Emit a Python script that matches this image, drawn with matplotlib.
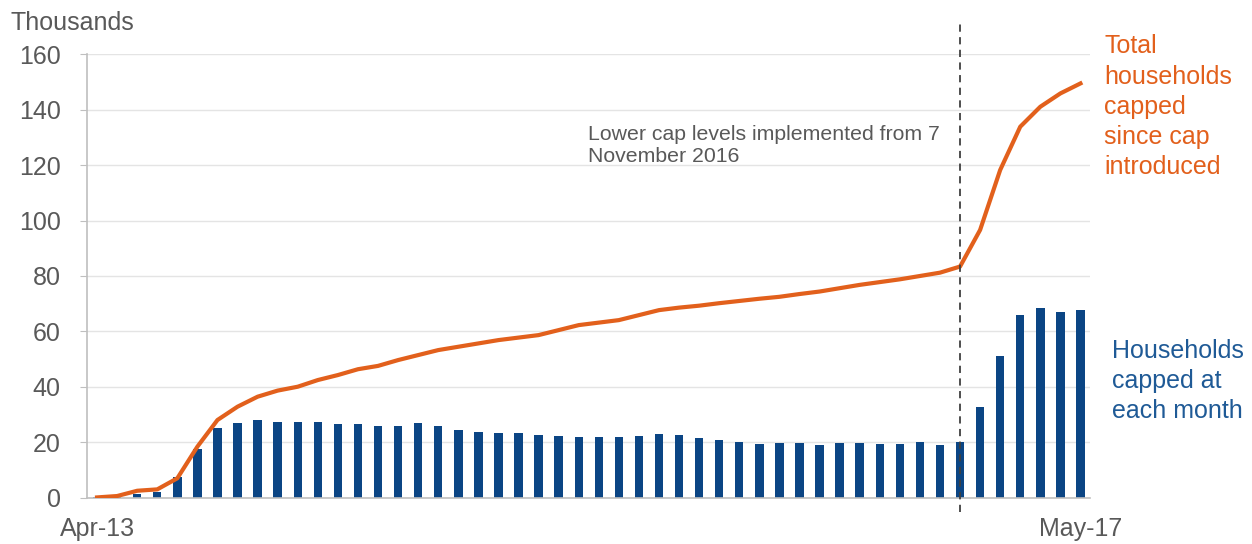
import numpy as np
import matplotlib.pyplot as plt

plt.rcParams['font.family'] = ['Liberation Sans', 'DejaVu Sans']

# monthly data, Apr-13 .. May-17 (thousands of households)
months = ['Apr-13', 'May-13', 'Jun-13', 'Jul-13', 'Aug-13', 'Sep-13', 'Oct-13', 'Nov-13', 'Dec-13',
          'Jan-14', 'Feb-14', 'Mar-14', 'Apr-14', 'May-14', 'Jun-14', 'Jul-14', 'Aug-14', 'Sep-14',
          'Oct-14', 'Nov-14', 'Dec-14', 'Jan-15', 'Feb-15', 'Mar-15', 'Apr-15', 'May-15', 'Jun-15',
          'Jul-15', 'Aug-15', 'Sep-15', 'Oct-15', 'Nov-15', 'Dec-15', 'Jan-16', 'Feb-16', 'Mar-16',
          'Apr-16', 'May-16', 'Jun-16', 'Jul-16', 'Aug-16', 'Sep-16', 'Oct-16', 'Nov-16', 'Dec-16',
          'Jan-17', 'Feb-17', 'Mar-17', 'Apr-17', 'May-17']

capped_each_month = [0.2, 0.5, 1.6, 2.3, 7.5, 17.7, 25.2, 27.0, 28.1, 27.4,
                     27.4, 27.4, 26.7, 26.7, 26.1, 26.1, 26.9, 26.1, 24.6, 23.9,
                     23.4, 23.3, 22.8, 22.2, 21.9, 22.1, 21.9, 22.5, 23.1, 22.7,
                     21.6, 20.8, 20.2, 19.6, 19.9, 19.9, 19.2, 19.8, 19.7, 19.6,
                     19.6, 20.1, 19.0, 20.1, 32.8, 51.1, 66.1, 68.5, 66.9, 67.9]

total_capped = [0.2, 0.7, 2.6, 3.1, 7.1, 18.5, 28.1, 32.9, 36.5, 38.7,
                40.1, 42.5, 44.3, 46.4, 47.6, 49.7, 51.5, 53.3, 54.5, 55.7,
                56.9, 57.8, 58.7, 60.5, 62.3, 63.2, 64.1, 65.9, 67.7, 68.6,
                69.3, 70.2, 71.0, 71.8, 72.5, 73.5, 74.4, 75.6, 76.8, 77.8,
                78.8, 80.0, 81.2, 83.4, 96.6, 118.2, 133.8, 141.0, 145.8, 149.4]

cap_change = 'Nov-16'
yticks = [0, 20, 40, 60, 80, 100, 120, 140, 160]

grey = '#595959'
navy = '#0b4584'
orange = '#e2601c'

x = np.arange(len(months))
fig = plt.figure(figsize=(12.52, 5.44), dpi=100)
ax = fig.add_axes([0.0695, 0.0846, 0.8015, 0.8161])

ax.bar(x, capped_each_month, width=0.42, color=navy, zorder=2)
ax.plot(x, total_capped, color=orange, lw=3, zorder=3, solid_joinstyle='round')

xc = months.index(cap_change)
ax.plot([xc, xc], [-5, 171.5], color='#404040', lw=1.3, ls=(0, (4, 3)), clip_on=False, zorder=4)
ax.text(xc - 18.55, 127, 'Lower cap levels implemented from 7\nNovember 2016',
        fontsize=15.3, color=grey, va='center', ha='left', linespacing=1.15)

ax.set_xlim(-0.5, len(months) - 0.5)
ax.set_ylim(0, 160)
ax.set_yticks(yticks)
ax.set_xticks([0, len(months) - 1])
ax.set_xticklabels([months[0], months[-1]])
ax.yaxis.grid(True, color='#e4e4e4', lw=1.0, zorder=0)
ax.set_axisbelow(True)
for s in ['top', 'right']:
    ax.spines[s].set_visible(False)
for s in ['left', 'bottom']:
    ax.spines[s].set_color('#bfbfbf')
    ax.spines[s].set_linewidth(1.2)
ax.tick_params(axis='y', length=5, color='#bfbfbf', labelsize=18, labelcolor=grey, pad=14)
ax.tick_params(axis='x', length=0, labelsize=18, labelcolor=grey, pad=14)

fig.text(0.008, 0.958, 'Thousands', fontsize=18, color=grey, va='center', ha='left')
fig.text(0.882, 0.937, 'Total\nhouseholds\ncapped\nsince cap\nintroduced', fontsize=18,
         color=orange, va='top', ha='left', linespacing=1.33)
fig.text(0.888, 0.30, 'Households\ncapped at\neach month', fontsize=18,
         color='#1f5a96', va='center', ha='left', linespacing=1.33)

fig.savefig('out.png', dpi=100)
